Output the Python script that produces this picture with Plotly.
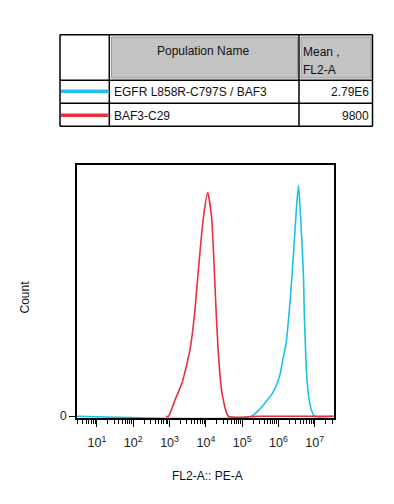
import plotly.graph_objects as go

# ---- data (log10 of FL2-A intensity, count as % of axis max) ----
red_log = [2.90, 2.97, 3.15, 3.34, 3.56, 3.68, 3.76, 3.84, 3.93, 4.05, 4.16, 4.21, 4.25, 4.29, 4.34, 4.41, 4.48, 4.62, 5.5, 7.50]
red_cnt = [0.0, 0.0, 6.5, 13.1, 26.2, 39.4, 52.5, 65.6, 78.8, 89.0, 78.8, 65.6, 52.5, 39.4, 26.2, 13.1, 6.5, 0.0, 0.0, 0.0]

cyan_log = [0.45, 5.25, 5.48, 5.84, 6.03, 6.12, 6.21, 6.30, 6.37, 6.43, 6.49, 6.55, 6.60, 6.65, 6.69, 6.71, 6.74, 6.78, 6.82, 6.90, 6.99, 7.53]
cyan_cnt = [0.0, 0.0, 2.8, 9.3, 15.9, 22.5, 29.0, 42.2, 55.3, 68.4, 81.6, 91.8, 81.6, 68.4, 55.3, 42.2, 29.0, 15.9, 9.3, 2.8, 0.0, 0.0]

x_tick_exp = [1, 2, 3, 4, 5, 6, 7]
x_tick_labels = ["10<sup>%d</sup>" % e for e in x_tick_exp]
minor_exp = [0, 1, 2, 3, 4, 5, 6, 7]
minor_mult = [2, 3, 4, 5, 6, 7, 8, 9]

table_header = ["Population Name", "Mean ,", "FL2-A"]
pop_names = ["EGFR L858R-C797S / BAF3", "BAF3-C29"]
pop_means = ["2.79E6", "9800"]

RED = "#E8303C"
CYAN = "#1EBFE6"
FONT = "Liberation Sans, Arial, sans-serif"

OFF = 8  # page body margin offset
W, H = 394 - OFF, 504 - OFF
L, T = 77 - OFF, 165 - OFF
R = W - (334 - OFF)
B = H - (418 - OFF)
pw, ph = W - L - R, H - T - B


def px(x):
    return (x - OFF - L) / pw


def py(y):
    return (H - B - (y - OFF)) / ph


fig = go.Figure()
fig.add_trace(go.Scatter(x=[10 ** v for v in cyan_log], y=cyan_cnt, mode="lines",
                         line=dict(color=CYAN, width=1.6, shape="spline", smoothing=0.6),
                         hoverinfo="skip"))
fig.add_trace(go.Scatter(x=[10 ** v for v in red_log], y=red_cnt, mode="lines",
                         line=dict(color=RED, width=1.6, shape="spline", smoothing=0.6),
                         hoverinfo="skip"))

minor_vals = [m * 10 ** e for e in minor_exp for m in minor_mult]

fig.update_xaxes(type="log", range=[0.45, 7.53],
                 tickmode="array", tickvals=[10 ** e for e in x_tick_exp], ticktext=x_tick_labels,
                 ticks="outside", ticklen=7, tickwidth=1, tickcolor="black",
                 minor=dict(ticks="outside", ticklen=4, tickwidth=1, tickcolor="black",
                            tickmode="array", tickvals=minor_vals, showgrid=False),
                 showline=True, linewidth=2, linecolor="black", mirror=True,
                 showgrid=False, zeroline=False, ticklabelstandoff=5,
                 tickfont=dict(family=FONT, size=12.5, color="#222"))
fig.update_yaxes(range=[-0.7, 100], tickmode="array", tickvals=[0], ticktext=["0"],
                 ticks="outside", ticklen=6, tickwidth=1, tickcolor="black",
                 showline=True, linewidth=2, linecolor="black", mirror=True,
                 showgrid=False, zeroline=False,
                 tickfont=dict(family=FONT, size=12, color="#222"))

shapes = []
# table gray header cells
for x0, x1 in [(111.5, 297.5), (301.0, 371.0)]:
    shapes.append(dict(type="rect", xref="paper", yref="paper", x0=px(x0), x1=px(x1), y0=py(78), y1=py(37),
                       fillcolor="#C3C3C3", line=dict(color="#9a9a9a", width=1), layer="above"))
# table grid
tl, tr, tt, tb = 60, 372.5, 34.7, 126.3
for yy in [tt, 80.3, 103.3, tb]:
    shapes.append(dict(type="line", xref="paper", yref="paper", x0=px(tl), x1=px(tr), y0=py(yy), y1=py(yy),
                       line=dict(color="black", width=1.5)))
for xx in [tl, 109.3, 299.0, tr]:
    shapes.append(dict(type="line", xref="paper", yref="paper", x0=px(xx), x1=px(xx), y0=py(tt), y1=py(tb),
                       line=dict(color="black", width=1.5)))
# swatches
for yy, col in [(91.3, CYAN), (115.3, RED)]:
    shapes.append(dict(type="line", xref="paper", yref="paper", x0=px(61), x1=px(108.5), y0=py(yy), y1=py(yy),
                       line=dict(color=col, width=3.5)))

ann = []


def text(x, y, s, xa="center", size=12, angle=0):
    ann.append(dict(x=px(x), y=py(y), xref="paper", yref="paper", text=s, showarrow=False,
                    xanchor=xa, yanchor="middle", textangle=angle,
                    font=dict(family=FONT, size=size, color="#111")))


text(202.5, 50.7, table_header[0])
text(301.0, 52.0, table_header[1], xa="left")
text(301.0, 70.0, table_header[2], xa="left")
for i, yy in enumerate([91.7, 116.0]):
    text(111.5, yy, pop_names[i], xa="left")
    text(371.0, yy, pop_means[i], xa="right")
text(207, 476, "FL2-A:: PE-A")
text(24.5, 297, "Count", angle=-90)

fig.update_layout(width=W, height=H, margin=dict(l=L, r=R, t=T, b=B, pad=0),
                  paper_bgcolor="white", plot_bgcolor="white", showlegend=False,
                  shapes=shapes, annotations=ann)
fig.write_html("out.html")
